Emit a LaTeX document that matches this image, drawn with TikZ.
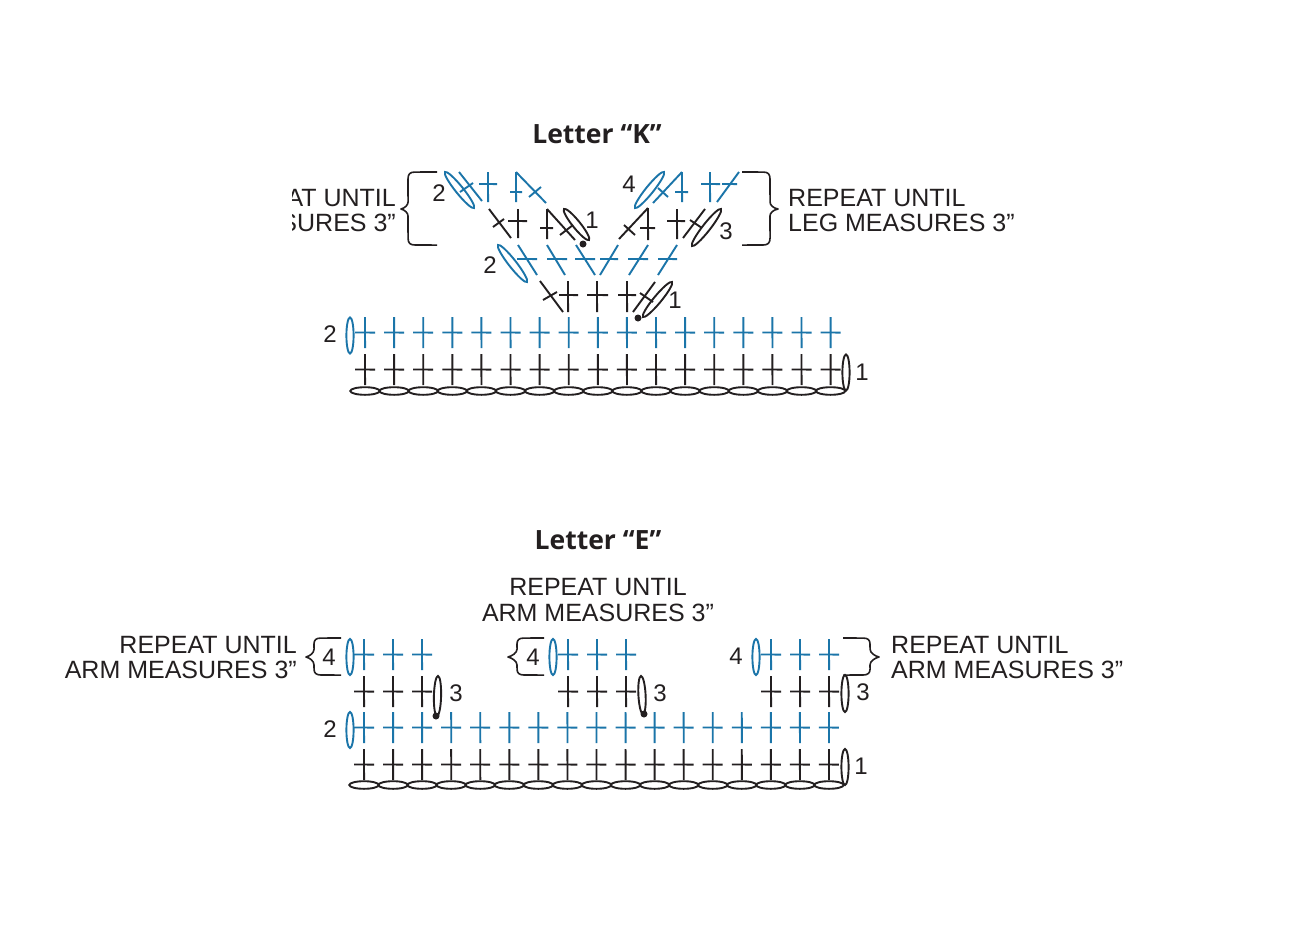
\documentclass[tikz,border=0pt]{standalone}
\usepackage{fontspec}
\setmainfont{Liberation Sans}
\newfontfamily\titlefont{Open Sans}
\usetikzlibrary{calc}
\definecolor{inkk}{HTML}{231F20}
\definecolor{inkb}{HTML}{1B75A9}
\tikzset{
  bk/.style={draw=inkk,line width=1.9pt},
  bl/.style={draw=inkb,line width=1.9pt},
  ovk/.style={draw=inkk,line width=1.9pt},
  ovb/.style={draw=inkb,line width=1.9pt},
  brace/.style={draw=inkk,line width=1.6pt,line join=round},
  lbl/.style={inner sep=0pt,text=inkk,font=\fontsize{25}{25}\selectfont},
  num/.style={inner sep=0pt,text=inkk,font=\fontsize{24}{24}\selectfont},
  ttl/.style={inner sep=0pt,text=inkk,font=\titlefont\bfseries\fontsize{26.5}{26.5}\selectfont},
  dotk/.style={fill=inkk,draw=none}
}
% upright stitch: style, x, y top
\newcommand\upst[3]{\draw[#1] (#2,#3) -- ++(0.06,31);\draw[#1] (#2-10,#3+15.5) -- ++(20,0.06);}
% vertical and horizontal strokes: style, x, y1, y2 / style, x1, x2, y
\newcommand\vstr[4]{\draw[#1] (#2,#3) -- (#2+0.06,#4);}
\newcommand\hstr[4]{\draw[#1] (#2,#4) -- (#3,#4+0.06);}
% segment
\newcommand\seg[3]{\draw[#1] (#2) -- (#3);}
% oval between two end points
\newcommand\ovl[4]{\draw[#1] let \p1=($(#3)-(#2)$),\n1={atan2(\y1,\x1)},\n2={veclen(\x1,\y1)/2} in ($(#2)!.5!(#3)$) ellipse [x radius=\n2,y radius=#4,rotate=\n1];}
\begin{document}
\begin{tikzpicture}[x=1pt,y=-1pt]
\useasboundingbox (0,0) rectangle (1296,948);
\fill[white] (0,0) rectangle (1296,948);

% ---------- Letter K ----------
\node[ttl,anchor=base] (titleK) at (597,143) {Letter “K”};
\foreach \i in {0,...,16}{
  \pgfmathsetmacro\xx{365+29.1*\i}
  \draw[ovk] (\xx,391) ellipse [x radius=14.7pt,y radius=3.8pt];
  \upst{bk}{\xx}{354}
  \upst{bl}{\xx}{317}
}
\draw[ovb] (350,335.5) ellipse [x radius=3.6pt,y radius=18pt];
\draw[ovk] (846,372.5) ellipse [x radius=3.6pt,y radius=18pt];
\node[num] (k2a) at (330,334) {2};
\node[num] (k1a) at (862,372) {1};

% row 3
\seg{bk}{540,281}{563,312}\seg{bk}{543,300}{557,292}
\vstr{bk}{568}{281}{312}\hstr{bk}{559}{578}{295}
\vstr{bk}{597}{281}{312}\hstr{bk}{587}{608}{295}
\vstr{bk}{627}{281}{312}\hstr{bk}{618}{636}{295}
\seg{bk}{633,312}{655,282}\seg{bk}{640,293}{653,302}
\ovl{ovk}{643,317}{672,282}{3.8pt}
\fill[dotk] (638,318) circle [radius=3.5pt];
\node[num] (k1b) at (675,300) {1};

% row 4
\ovl{ovb}{498,245}{527,282}{3.8pt}
\node[num] (k2b) at (490,265) {2};
\seg{bl}{518,245}{537,275}\hstr{bl}{517}{537}{259}
\seg{bl}{547,245}{565,275}\hstr{bl}{547}{567}{259}
\seg{bl}{576,245}{595,275}\hstr{bl}{575}{595}{259}
\seg{bl}{600,275}{618,245}\hstr{bl}{600}{618}{259}
\seg{bl}{629,275}{648,245}\hstr{bl}{628}{648}{259}
\seg{bl}{658,275}{677,245}\hstr{bl}{658}{677}{259}

% row 5
\seg{bk}{489,209}{511,238}\seg{bk}{493,227}{504,219}
\vstr{bk}{518}{209}{238}\hstr{bk}{508}{527}{221}
\vstr{bk}{547}{209}{239}\hstr{bk}{540}{553}{228}
\seg{bk}{547,209}{575,240}\seg{bk}{560,235}{573,225}
\ovl{ovk}{564,209}{589,240}{3.8pt}
\fill[dotk] (583,244) circle [radius=3.5pt];
\node[num] (k1c) at (592,220) {1};
\seg{bk}{619,239}{648,208}\seg{bk}{624,225}{635,235}
\vstr{bk}{648}{208}{240}\hstr{bk}{640}{655}{228}
\vstr{bk}{677}{209}{239}\hstr{bk}{667}{685}{221}
\seg{bk}{683,238}{705,209}\seg{bk}{690,220}{702,228}
\ovl{ovk}{692,246}{721,209}{3.8pt}
\node[num] (k3a) at (726,231) {3};

% row 6
\ovl{ovb}{445,172}{474,208}{3.8pt}
\node[num] (k2c) at (439,193) {2};
\seg{bl}{459,172}{482,201}\seg{bl}{460,192}{473,183}
\vstr{bl}{488}{172}{202}\hstr{bl}{479}{497}{184}
\vstr{bl}{516}{172}{202}\hstr{bl}{510}{522}{192}
\seg{bl}{516,172}{546,203}\seg{bl}{529,197}{541,187}
\ovl{ovb}{635,208}{664,172}{3.8pt}
\node[num] (k4a) at (629,184) {4};
\seg{bl}{653,203}{682,172}\seg{bl}{658,188}{668,197}
\vstr{bl}{682}{172}{202}\hstr{bl}{675}{688}{192}
\vstr{bl}{710}{172}{202}\hstr{bl}{701}{720}{184}
\seg{bl}{717,202}{739,172}\hstr{bl}{722}{737}{184}

% braces K
\draw[brace] (437,172) -- (415,172.06) .. controls (410,172) and (408,174) .. (408,179) -- (408.06,202) .. controls (408,205) and (405,208) .. (401,209) .. controls (405,210) and (408,213) .. (408,216) -- (408.06,238) .. controls (408,243) and (410,245) .. (415,245) -- (437,245.06);
\draw[brace] (742,172) -- (763,172.06) .. controls (768,172) and (770,174) .. (770,179) -- (770.06,202) .. controls (770,205) and (773,208) .. (778,209) .. controls (773,210) and (770,213) .. (770,216) -- (770.06,238) .. controls (770,243) and (768,245) .. (763,245) -- (742,245.06);

% texts K
\begin{scope}
\clip (292,170) rectangle (400,240);
\node[lbl,anchor=base east] (kl1) at (396,206) {AT UNTIL};
\node[lbl,anchor=base east] (kl2) at (396,231) {SURES 3”};
\end{scope}
\node[lbl,anchor=base west] (kr1) at (788,206) {REPEAT UNTIL};
\node[lbl,anchor=base west] (kr2) at (788,231) {LEG MEASURES 3”};

% ---------- Letter E ----------
\node[ttl,anchor=base] (titleE) at (598,549) {Letter “E”};
\foreach \i in {0,...,16}{
  \pgfmathsetmacro\xx{364+29.06*\i}
  \draw[ovk] (\xx,785) ellipse [x radius=14.7pt,y radius=3.8pt];
  \upst{bk}{\xx}{749}
  \upst{bl}{\xx}{712}
}
\draw[ovb] (350,730) ellipse [x radius=3.6pt,y radius=18pt];
\draw[ovk] (845,767) ellipse [x radius=3.6pt,y radius=18pt];
\node[num] (e2) at (330,729) {2};
\node[num] (e1) at (861,766) {1};

\foreach \xs in {364,568,771}{
  \foreach \j in {0,1,2}{
    \pgfmathsetmacro\xx{\xs+29*\j}
    \upst{bk}{\xx}{676}
    \upst{bl}{\xx}{639}
  }
}
\draw[ovb] (350,657) ellipse [x radius=3.6pt,y radius=18pt];
\draw[ovb] (553,657) ellipse [x radius=3.6pt,y radius=18pt];
\draw[ovb] (756,657) ellipse [x radius=3.6pt,y radius=18pt];
\ovl{ovk}{438,676}{437,716}{3.6pt}
\ovl{ovk}{641,676}{643,714}{3.6pt}
\draw[ovk] (845,693.5) ellipse [x radius=3.6pt,y radius=18.5pt];
\fill[dotk] (436,716) circle [radius=3.5pt];
\fill[dotk] (644,714) circle [radius=3.5pt];
\node[num] (e3a) at (456,693) {3};
\node[num] (e3b) at (660,693) {3};
\node[num] (e3c) at (863,692) {3};
\node[num] (e4a) at (329,657) {4};
\node[num] (e4b) at (533,657) {4};
\node[num] (e4c) at (736,656) {4};

% braces E
\draw[brace] (341,638) -- (321,638.06) .. controls (316,638) and (314,640) .. (314,644) -- (314.06,649) .. controls (314,653) and (310,656) .. (306,657) .. controls (310,658) and (314,661) .. (314,665) -- (314.06,669) .. controls (314,673) and (316,675) .. (321,675) -- (341,675.06);
\draw[brace] (544,638) -- (524,638.06) .. controls (519,638) and (517,640) .. (517,644) -- (517.06,649) .. controls (517,653) and (512,656) .. (508,657) .. controls (512,658) and (517,661) .. (517,665) -- (517.06,669) .. controls (517,673) and (519,675) .. (524,675) -- (544,675.06);
\draw[brace] (843,638) -- (863,638.06) .. controls (868,638) and (870,640) .. (870,644) -- (870.06,649) .. controls (870,653) and (875,656) .. (879,657) .. controls (875,658) and (870,661) .. (870,665) -- (870.06,669) .. controls (870,673) and (868,675) .. (863,675) -- (843,675.06);

% texts E
\node[lbl,anchor=base] (et1) at (598,595) {REPEAT UNTIL};
\node[lbl,anchor=base] (et2) at (598,621) {ARM MEASURES 3”};
\node[lbl,anchor=base east] (el1) at (297,653) {REPEAT UNTIL};
\node[lbl,anchor=base east] (el2) at (297,678) {ARM MEASURES 3”};
\node[lbl,anchor=base west] (er1) at (891,653) {REPEAT UNTIL};
\node[lbl,anchor=base west] (er2) at (891,678) {ARM MEASURES 3”};
\end{tikzpicture}
\end{document}
